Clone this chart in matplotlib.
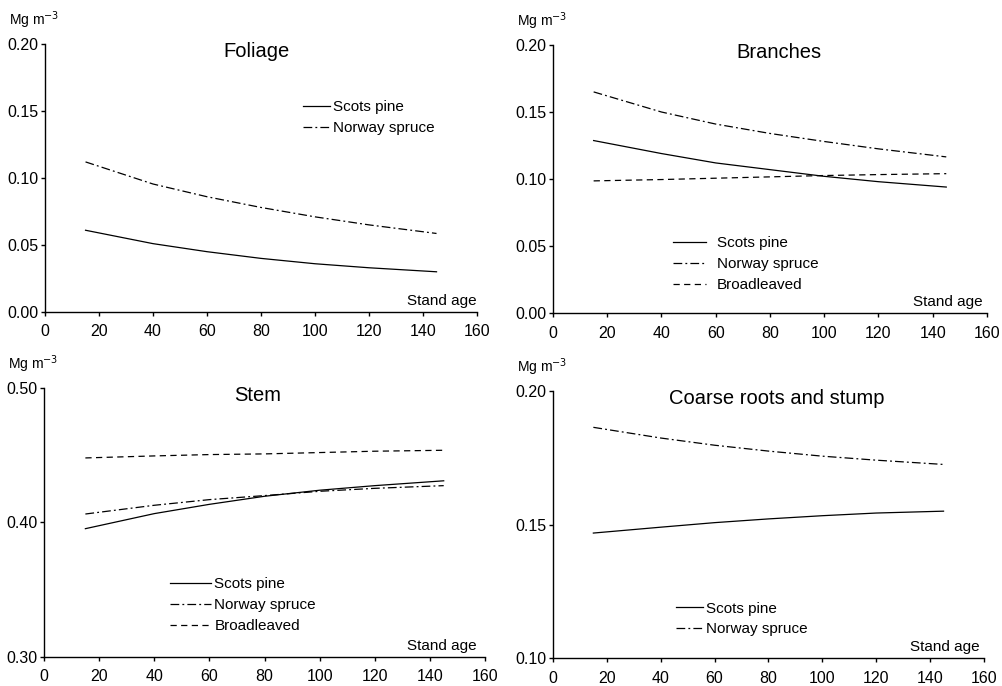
import numpy as np
import matplotlib.pyplot as plt
from matplotlib.ticker import FormatStrFormatter

plt.rcParams['font.family'] = ['Liberation Sans', 'DejaVu Sans']

# Bestandesalter (Stand age) - gemeinsame x-Werte aller Kurven
ages = [15, 40, 60, 80, 100, 120, 145]

# Foliage
fol_pine = [0.061, 0.051, 0.045, 0.040, 0.036, 0.033, 0.030]
fol_spruce = [0.112, 0.0955, 0.086, 0.078, 0.071, 0.065, 0.0586]

# Branches
br_pine = [0.1287, 0.119, 0.112, 0.107, 0.102, 0.098, 0.094]
br_spruce = [0.165, 0.150, 0.141, 0.134, 0.128, 0.1225, 0.1165]
br_broad = [0.0986, 0.0996, 0.1006, 0.1016, 0.1026, 0.1033, 0.104]

# Stem
st_pine = [0.3954, 0.4066, 0.4135, 0.4195, 0.424, 0.4274, 0.431]
st_spruce = [0.4063, 0.4128, 0.417, 0.420, 0.4232, 0.4254, 0.4274]
st_broad = [0.448, 0.4495, 0.4505, 0.451, 0.452, 0.453, 0.4537]

# Coarse roots and stump
cr_pine = [0.1468, 0.149, 0.1507, 0.1521, 0.1533, 0.1543, 0.155]
cr_spruce = [0.1864, 0.1824, 0.1797, 0.1775, 0.1756, 0.1741, 0.1725]

LW = 0.9
stil = {
    'Scots pine': dict(color='black', lw=LW, linestyle='-'),
    'Norway spruce': dict(color='black', lw=LW, linestyle=(0, (7, 2.5, 1.5, 2.5))),
    'Broadleaved': dict(color='black', lw=LW, linestyle=(0, (5, 3.5))),
}

fig = plt.figure(figsize=(10.03, 6.86), dpi=100)

# [links, unten, breite, hoehe] in Figure-Anteilen
panels = [
    dict(rect=[0.0449, 0.5452, 0.4307, 0.3907], title='Foliage', tx=0.49,
         ylim=(0.0, 0.20), yticks=[0.0, 0.05, 0.10, 0.15, 0.20],
         serien=[('Scots pine', fol_pine), ('Norway spruce', fol_spruce)],
         leg=dict(anchor=(0.597, 0.726), hl=1.8, tp=0.2), sx=1.0),
    dict(rect=[0.5513, 0.5437, 0.4327, 0.3907], title='Branches', tx=0.52,
         ylim=(0.0, 0.20), yticks=[0.0, 0.05, 0.10, 0.15, 0.20],
         serien=[('Scots pine', br_pine), ('Norway spruce', br_spruce), ('Broadleaved', br_broad)],
         leg=dict(anchor=(0.276, 0.183), hl=2.2, tp=0.7), sx=0.99),
    dict(rect=[0.0439, 0.0423, 0.4397, 0.3921], title='Stem', tx=0.485,
         ylim=(0.30, 0.50), yticks=[0.30, 0.40, 0.50],
         serien=[('Scots pine', st_pine), ('Norway spruce', st_spruce), ('Broadleaved', st_broad)],
         leg=dict(anchor=(0.286, 0.193), hl=2.7, tp=0.2), sx=0.982),
    dict(rect=[0.5513, 0.0408, 0.4297, 0.3892], title='Coarse roots and stump', tx=0.52,
         ylim=(0.10, 0.20), yticks=[0.10, 0.15, 0.20],
         serien=[('Scots pine', cr_pine), ('Norway spruce', cr_spruce)],
         leg=dict(anchor=(0.285, 0.146), hl=1.75, tp=0.25), sx=0.99),
]

for p in panels:
    ax = fig.add_axes(p['rect'])
    for name, werte in p['serien']:
        ax.plot(ages, werte, label=name, **stil[name])
    ax.set_xlim(0, 160)
    ax.set_ylim(*p['ylim'])
    ax.set_xticks(np.arange(0, 161, 20))
    ax.set_yticks(p['yticks'])
    ax.yaxis.set_major_formatter(FormatStrFormatter('%.2f'))
    for s in ['top', 'right']:
        ax.spines[s].set_visible(False)
    for s in ['left', 'bottom']:
        ax.spines[s].set_linewidth(1.0)
    ax.tick_params(direction='out', length=3, width=1.0, labelsize=11.5)
    ax.tick_params(axis='x', pad=6)
    ax.tick_params(axis='y', pad=1.5)
    ax.text(p['tx'], 1.008, p['title'], transform=ax.transAxes, ha='center', va='top', fontsize=14.5)
    ax.text(p['sx'], 0.015, 'Stand age', transform=ax.transAxes, ha='right', va='bottom', fontsize=11)
    ax.annotate('Mg m$^{-3}$', xy=(0, 1), xycoords='axes fraction', xytext=(-36, 24),
                textcoords='offset pixels', ha='left', va='center', fontsize=10)
    lg = p['leg']
    ax.legend(frameon=False, loc='center left', bbox_to_anchor=lg['anchor'], borderpad=0,
              borderaxespad=0, handlelength=lg['hl'], handletextpad=lg['tp'],
              labelspacing=0.45, fontsize=11)

fig.savefig('out.png', dpi=100)
